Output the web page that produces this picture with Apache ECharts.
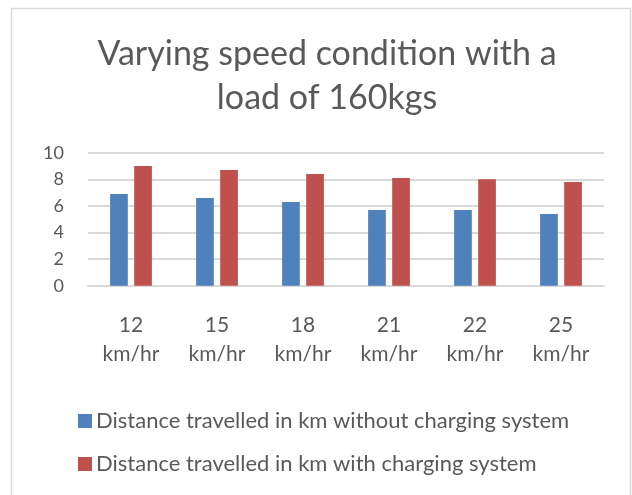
<!DOCTYPE html>
<html lang="en">
<head>
    <meta charset="UTF-8">
    <title>Varying speed condition</title>
    <script src="https://cdn.jsdelivr.net/npm/echarts@6/dist/echarts.min.js"></script>
    <style>
        html, body { margin: 0; padding: 0; background: #fff; }
    </style>
</head>
<body>
    <div id="main" style="width:632px;height:495px;"></div>
    <script>
        var myChart = echarts.init(document.getElementById('main'));

        // speeds on the x axis
        var categories = ['12\nkm/hr', '15\nkm/hr', '18\nkm/hr', '21\nkm/hr', '22\nkm/hr', '25\nkm/hr'];
        // distance travelled
        var withoutCharging = [6.9, 6.6, 6.3, 5.7, 5.7, 5.4];
        var withCharging = [9.0, 8.7, 8.4, 8.1, 8.0, 7.8];
        var seriesNames = [
            'Distance travelled in km without charging system',
            'Distance travelled in km with charging system'
        ];

        var font = 'Lato, "Noto Sans", sans-serif';
        var textColor = '#595959';

        option = {
            backgroundColor: '#fff',
            animation: false,
            title: {
                text: 'Varying speed condition with a\nload of 160kgs',
                left: 322,
                top: 27,
                textAlign: 'center',
                textStyle: {
                    fontFamily: font,
                    fontSize: 34,
                    fontWeight: 'normal',
                    color: textColor,
                    lineHeight: 44
                }
            },
            legend: {
                orient: 'vertical',
                left: 73,
                top: 403,
                itemWidth: 14,
                itemHeight: 14,
                itemGap: 17,
                icon: 'rect',
                textStyle: {
                    fontFamily: font,
                    fontSize: 22,
                    lineHeight: 26,
                    color: textColor,
                    padding: [0, 0, 0, -1]
                },
                data: seriesNames
            },
            grid: {
                left: 88,
                right: 28,
                top: 152.7,
                bottom: 209.3,
                containLabel: false
            },
            xAxis: {
                type: 'category',
                data: categories,
                axisTick: { show: false },
                axisLine: { lineStyle: { color: '#d9d9d9', width: 2 } },
                axisLabel: {
                    fontFamily: font,
                    fontSize: 21,
                    lineHeight: 29,
                    color: textColor,
                    margin: 25
                }
            },
            yAxis: {
                type: 'value',
                min: 0,
                max: 10,
                interval: 2,
                axisLine: { show: false },
                axisTick: { show: false },
                splitLine: { lineStyle: { color: '#d9d9d9', width: 2 } },
                axisLabel: {
                    fontFamily: font,
                    fontSize: 18,
                    color: textColor,
                    margin: 24
                }
            },
            series: [{
                name: seriesNames[0],
                type: 'bar',
                data: withoutCharging,
                barWidth: 17.7,
                barGap: '36%',
                itemStyle: { color: '#4F81BD' }
            }, {
                name: seriesNames[1],
                type: 'bar',
                data: withCharging,
                barWidth: 17.7,
                itemStyle: { color: '#C0504D' }
            }],
            graphic: [{
                type: 'rect',
                shape: { x: 11.5, y: 8.5, width: 619, height: 500 },
                style: { fill: 'none', stroke: '#d9d9d9', lineWidth: 1.5 },
                silent: true
            }]
        };
        myChart.setOption(option);
    </script>
</body>
</html>
